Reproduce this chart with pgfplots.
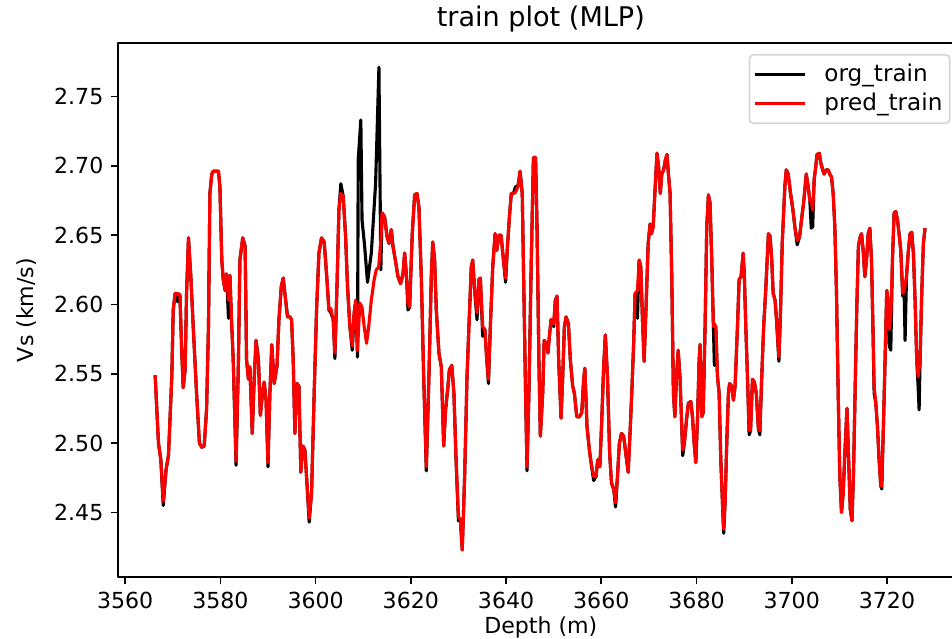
\documentclass[border=0pt]{standalone}
\usepackage{fontspec}
\setmainfont{DejaVu Sans}
\usepackage{pgfplots}
\pgfplotsset{compat=1.18}
\usepackage{pgfplotstable}

\pgfplotstableread{
d v
3566.3 2.549
3567.0 2.500
3567.5 2.488
3568.0 2.455
3568.6 2.481
3569.1 2.491
3569.8 2.548
3570.1 2.596
3570.5 2.608
3571.0 2.602
3571.5 2.607
3571.9 2.565
3572.2 2.540
3572.6 2.553
3572.9 2.608
3573.3 2.648
3573.8 2.620
3574.3 2.584
3575.0 2.536
3575.6 2.500
3576.1 2.497
3576.6 2.498
3577.1 2.524
3577.5 2.584
3577.8 2.680
3578.2 2.694
3578.5 2.696
3579.6 2.696
3579.9 2.685
3580.3 2.632
3580.6 2.618
3581.0 2.610
3581.3 2.622
3581.7 2.590
3582.0 2.621
3582.4 2.584
3582.7 2.560
3583.3 2.484
3583.8 2.560
3584.1 2.632
3584.7 2.648
3585.2 2.642
3585.5 2.560
3585.9 2.546
3586.2 2.555
3586.7 2.507
3587.1 2.546
3587.5 2.574
3588.0 2.560
3588.4 2.520
3588.9 2.538
3589.2 2.544
3589.6 2.531
3590.0 2.483
3590.4 2.536
3590.8 2.571
3591.3 2.543
3591.9 2.556
3592.3 2.589
3592.8 2.613
3593.2 2.619
3593.55 2.608
3594.1 2.591
3594.6 2.591
3594.95 2.589
3595.3 2.560
3595.65 2.507
3596.1 2.543
3596.5 2.541
3596.9 2.479
3597.3 2.498
3597.75 2.495
3598.1 2.476
3598.65 2.443
3599.15 2.464
3599.7 2.536
3600.2 2.596
3600.7 2.637
3601.25 2.648
3601.8 2.645
3602.3 2.622
3602.8 2.596
3603.2 2.594
3603.7 2.589
3604.05 2.561
3604.45 2.608
3604.9 2.668
3605.3 2.687
3605.8 2.678
3606.3 2.649
3606.7 2.613
3607.2 2.584
3607.7 2.567
3608.1 2.594
3608.45 2.603
3608.8 2.562
3608.95 2.704
3609.5 2.733
3609.75 2.661
3610.3 2.642
3610.9 2.616
3611.7 2.637
3612.6 2.687
3613.3 2.771
3613.7 2.625
3613.95 2.666
3614.5 2.663
3615.0 2.649
3615.4 2.644
3615.9 2.654
3616.25 2.642
3616.75 2.632
3617.3 2.620
3617.85 2.615
3618.35 2.622
3618.7 2.637
3619.1 2.620
3619.4 2.596
3619.75 2.598
3620.3 2.651
3620.8 2.679
3621.3 2.680
3621.7 2.670
3622.2 2.620
3622.7 2.548
3623.25 2.480
3623.8 2.548
3624.3 2.620
3624.6 2.645
3625.0 2.632
3625.35 2.596
3625.9 2.565
3626.4 2.555
3626.9 2.498
3627.3 2.524
3627.8 2.541
3628.1 2.553
3628.6 2.556
3629.05 2.536
3629.5 2.488
3630.0 2.444
3630.4 2.445
3630.8 2.423
3631.3 2.476
3631.8 2.548
3632.2 2.584
3632.7 2.627
3633.0 2.632
3633.45 2.608
3633.9 2.589
3634.3 2.618
3634.6 2.619
3635.1 2.577
3635.55 2.582
3635.95 2.560
3636.3 2.543
3636.7 2.584
3637.2 2.627
3637.7 2.651
3638.05 2.639
3638.5 2.650
3638.95 2.650
3639.45 2.632
3639.9 2.616
3640.3 2.642
3640.7 2.663
3641.1 2.680
3641.55 2.680
3642.0 2.685
3642.5 2.685
3642.95 2.696
3643.4 2.680
3643.75 2.608
3644.1 2.536
3644.4 2.480
3644.8 2.536
3645.3 2.632
3645.75 2.706
3646.2 2.706
3646.5 2.656
3646.9 2.560
3647.2 2.505
3647.7 2.536
3648.0 2.574
3648.5 2.572
3648.8 2.565
3649.1 2.577
3649.45 2.589
3650.0 2.584
3650.35 2.603
3650.7 2.606
3651.05 2.560
3651.55 2.518
3651.9 2.548
3652.25 2.584
3652.6 2.591
3653.1 2.586
3653.5 2.560
3654.0 2.541
3654.35 2.536
3654.85 2.519
3655.4 2.519
3655.9 2.522
3656.3 2.546
3656.55 2.554
3657.0 2.512
3657.5 2.495
3657.85 2.486
3658.4 2.473
3658.9 2.476
3659.25 2.488
3659.7 2.483
3660.05 2.512
3660.5 2.555
3660.85 2.578
3661.3 2.548
3661.75 2.493
3662.15 2.471
3662.6 2.467
3663.0 2.454
3663.4 2.476
3663.8 2.500
3664.25 2.507
3664.7 2.505
3665.2 2.491
3665.65 2.479
3666.1 2.512
3666.4 2.536
3666.8 2.572
3667.1 2.608
3667.6 2.590
3667.95 2.632
3668.3 2.627
3668.65 2.589
3669.0 2.559
3669.4 2.598
3669.85 2.644
3670.25 2.658
3670.55 2.651
3670.9 2.656
3671.25 2.680
3671.7 2.709
3672.05 2.699
3672.4 2.680
3672.7 2.694
3673.1 2.697
3673.45 2.704
3673.8 2.708
3674.1 2.694
3674.45 2.680
3674.8 2.620
3675.15 2.536
3675.45 2.519
3675.8 2.548
3676.15 2.567
3676.55 2.546
3676.9 2.512
3677.1 2.491
3677.45 2.500
3677.9 2.517
3678.3 2.529
3678.8 2.530
3679.15 2.519
3679.5 2.500
3679.85 2.486
3680.2 2.517
3680.55 2.560
3680.75 2.571
3681.1 2.519
3681.4 2.522
3681.8 2.584
3682.15 2.656
3682.5 2.679
3682.85 2.673
3683.2 2.632
3683.55 2.584
3683.75 2.556
3684.05 2.584
3684.4 2.548
3684.75 2.536
3685.1 2.488
3685.45 2.457
3685.7 2.435
3686.0 2.457
3686.35 2.500
3686.7 2.536
3686.95 2.543
3687.4 2.541
3687.75 2.531
3688.1 2.541
3688.6 2.584
3688.95 2.618
3689.35 2.620
3689.8 2.637
3690.05 2.620
3690.35 2.584
3690.7 2.548
3691.05 2.506
3691.35 2.509
3691.75 2.546
3692.15 2.544
3692.55 2.536
3693.0 2.510
3693.3 2.506
3693.7 2.548
3694.1 2.584
3694.5 2.608
3695.1 2.651
3695.45 2.649
3695.8 2.632
3696.1 2.608
3696.5 2.603
3696.8 2.589
3697.3 2.559
3697.65 2.596
3698.0 2.644
3698.55 2.685
3698.85 2.697
3699.25 2.694
3699.75 2.680
3700.25 2.668
3700.65 2.656
3701.15 2.643
3701.65 2.649
3702.05 2.661
3702.55 2.675
3703.05 2.694
3703.45 2.685
3703.8 2.675
3704.1 2.655
3704.4 2.656
3704.7 2.690
3705.0 2.698
3705.3 2.708
3705.8 2.709
3706.1 2.702
3706.5 2.697
3706.8 2.694
3707.2 2.697
3707.65 2.697
3708.1 2.693
3708.35 2.692
3708.7 2.680
3709.05 2.656
3709.4 2.608
3709.75 2.536
3710.1 2.476
3710.45 2.450
3710.8 2.464
3711.25 2.500
3711.6 2.525
3711.95 2.488
3712.3 2.452
3712.65 2.444
3712.95 2.476
3713.3 2.536
3713.65 2.596
3714.0 2.642
3714.4 2.649
3714.65 2.651
3715.0 2.639
3715.35 2.620
3715.7 2.632
3716.05 2.651
3716.4 2.655
3716.75 2.632
3717.05 2.584
3717.3 2.536
3717.65 2.529
3718.0 2.512
3718.35 2.488
3718.7 2.469
3718.9 2.467
3719.25 2.512
3719.6 2.560
3719.95 2.610
3720.25 2.603
3720.5 2.570
3720.8 2.567
3721.15 2.632
3721.5 2.666
3721.85 2.667
3722.2 2.661
3722.6 2.649
3722.9 2.639
3723.3 2.606
3723.6 2.610
3723.8 2.574
3724.1 2.620
3724.45 2.637
3724.85 2.651
3725.2 2.652
3725.55 2.637
3725.9 2.603
3726.25 2.560
3726.55 2.540
3726.75 2.524
3726.95 2.560
3727.3 2.608
3727.65 2.644
3728.0 2.655
}\orgtrain

\pgfplotstableread{
d v
3566.3 2.549
3567.0 2.500
3567.5 2.488
3568.0 2.458
3568.6 2.481
3569.1 2.491
3569.8 2.548
3570.1 2.596
3570.5 2.608
3571.0 2.608
3571.5 2.607
3571.9 2.565
3572.2 2.540
3572.6 2.553
3572.9 2.608
3573.3 2.648
3573.8 2.620
3574.3 2.584
3575.0 2.536
3575.6 2.500
3576.1 2.497
3576.6 2.498
3577.1 2.524
3577.5 2.584
3577.8 2.680
3578.2 2.694
3578.5 2.696
3579.6 2.696
3579.9 2.685
3580.3 2.632
3580.6 2.618
3581.0 2.610
3581.3 2.622
3581.7 2.603
3582.0 2.621
3582.4 2.584
3582.7 2.560
3583.3 2.487
3583.8 2.560
3584.1 2.632
3584.7 2.648
3585.2 2.642
3585.5 2.560
3585.9 2.546
3586.2 2.555
3586.7 2.507
3587.1 2.546
3587.5 2.574
3588.0 2.560
3588.4 2.520
3588.9 2.538
3589.2 2.544
3589.6 2.531
3590.0 2.486
3590.4 2.536
3590.8 2.571
3591.3 2.543
3591.9 2.556
3592.3 2.589
3592.8 2.613
3593.2 2.619
3593.55 2.608
3594.1 2.591
3594.6 2.591
3594.95 2.589
3595.3 2.560
3595.65 2.507
3596.1 2.543
3596.5 2.541
3596.9 2.479
3597.3 2.498
3597.75 2.495
3598.1 2.476
3598.65 2.446
3599.15 2.464
3599.7 2.536
3600.2 2.596
3600.7 2.637
3601.25 2.648
3601.8 2.645
3602.3 2.622
3602.8 2.596
3603.2 2.597
3603.7 2.589
3604.05 2.565
3604.45 2.608
3604.9 2.668
3605.3 2.680
3605.8 2.678
3606.3 2.649
3606.7 2.613
3607.2 2.584
3607.7 2.570
3608.1 2.594
3608.45 2.603
3608.8 2.567
3609.3 2.601
3609.75 2.598
3610.2 2.584
3610.7 2.572
3611.15 2.584
3611.7 2.603
3612.3 2.618
3612.75 2.625
3613.25 2.627
3613.7 2.646
3613.95 2.666
3614.5 2.663
3615.0 2.649
3615.4 2.644
3615.9 2.654
3616.25 2.642
3616.75 2.632
3617.3 2.620
3617.85 2.615
3618.35 2.622
3618.7 2.637
3619.1 2.620
3619.4 2.601
3619.75 2.598
3620.3 2.651
3620.8 2.679
3621.3 2.680
3621.7 2.670
3622.2 2.620
3622.7 2.548
3623.25 2.483
3623.8 2.548
3624.3 2.620
3624.6 2.645
3625.0 2.632
3625.35 2.596
3625.9 2.565
3626.4 2.555
3626.9 2.498
3627.3 2.524
3627.8 2.541
3628.1 2.553
3628.6 2.556
3629.05 2.536
3629.5 2.488
3630.0 2.447
3630.4 2.445
3630.8 2.423
3631.3 2.476
3631.8 2.548
3632.2 2.584
3632.7 2.627
3633.0 2.632
3633.45 2.608
3633.9 2.594
3634.3 2.618
3634.6 2.619
3635.1 2.584
3635.55 2.582
3635.95 2.560
3636.3 2.546
3636.7 2.584
3637.2 2.627
3637.7 2.651
3638.05 2.639
3638.5 2.650
3638.95 2.650
3639.45 2.632
3639.9 2.619
3640.3 2.642
3640.7 2.663
3641.1 2.680
3641.55 2.680
3642.0 2.681
3642.5 2.685
3642.95 2.696
3643.4 2.680
3643.75 2.608
3644.1 2.536
3644.4 2.483
3644.8 2.536
3645.3 2.632
3645.75 2.706
3646.2 2.706
3646.5 2.656
3646.9 2.560
3647.2 2.505
3647.7 2.536
3648.0 2.574
3648.5 2.572
3648.8 2.565
3649.1 2.577
3649.45 2.589
3650.0 2.586
3650.35 2.603
3650.7 2.606
3651.05 2.560
3651.55 2.518
3651.9 2.548
3652.25 2.584
3652.6 2.591
3653.1 2.586
3653.5 2.560
3654.0 2.541
3654.35 2.536
3654.85 2.519
3655.4 2.519
3655.9 2.522
3656.3 2.546
3656.55 2.554
3657.0 2.512
3657.5 2.495
3657.85 2.486
3658.4 2.476
3658.9 2.476
3659.25 2.488
3659.7 2.483
3660.05 2.512
3660.5 2.555
3660.85 2.578
3661.3 2.548
3661.75 2.493
3662.15 2.471
3662.6 2.467
3663.0 2.457
3663.4 2.476
3663.8 2.500
3664.25 2.507
3664.7 2.505
3665.2 2.491
3665.65 2.479
3666.1 2.512
3666.4 2.536
3666.8 2.572
3667.1 2.608
3667.6 2.610
3667.95 2.632
3668.3 2.627
3668.65 2.589
3669.0 2.559
3669.4 2.598
3669.85 2.644
3670.25 2.658
3670.55 2.651
3670.9 2.656
3671.25 2.680
3671.7 2.709
3672.05 2.699
3672.4 2.680
3672.7 2.694
3673.1 2.697
3673.45 2.704
3673.8 2.708
3674.1 2.694
3674.45 2.680
3674.8 2.620
3675.15 2.536
3675.45 2.519
3675.8 2.548
3676.15 2.567
3676.55 2.546
3676.9 2.512
3677.1 2.495
3677.45 2.500
3677.9 2.517
3678.3 2.529
3678.8 2.530
3679.15 2.519
3679.5 2.500
3679.85 2.486
3680.2 2.517
3680.55 2.560
3680.75 2.571
3681.1 2.519
3681.4 2.522
3681.8 2.584
3682.15 2.656
3682.5 2.679
3682.85 2.673
3683.2 2.632
3683.55 2.584
3683.75 2.586
3684.05 2.584
3684.4 2.548
3684.75 2.536
3685.1 2.488
3685.45 2.457
3685.7 2.438
3686.0 2.457
3686.35 2.500
3686.7 2.536
3686.95 2.543
3687.4 2.541
3687.75 2.531
3688.1 2.541
3688.6 2.584
3688.95 2.618
3689.35 2.620
3689.8 2.637
3690.05 2.620
3690.35 2.584
3690.7 2.548
3691.05 2.509
3691.35 2.509
3691.75 2.546
3692.15 2.544
3692.55 2.536
3693.0 2.510
3693.3 2.509
3693.7 2.548
3694.1 2.584
3694.5 2.608
3695.1 2.651
3695.45 2.649
3695.8 2.632
3696.1 2.608
3696.5 2.603
3696.8 2.589
3697.3 2.562
3697.65 2.596
3698.0 2.644
3698.55 2.685
3698.85 2.697
3699.25 2.694
3699.75 2.680
3700.25 2.668
3700.65 2.656
3701.15 2.646
3701.65 2.649
3702.05 2.661
3702.55 2.675
3703.05 2.694
3703.45 2.685
3703.8 2.675
3704.1 2.675
3704.4 2.668
3704.7 2.690
3705.0 2.698
3705.3 2.708
3705.8 2.709
3706.1 2.702
3706.5 2.697
3706.8 2.694
3707.2 2.697
3707.65 2.697
3708.1 2.693
3708.35 2.692
3708.7 2.680
3709.05 2.656
3709.4 2.608
3709.75 2.536
3710.1 2.476
3710.45 2.450
3710.8 2.464
3711.25 2.500
3711.6 2.525
3711.95 2.488
3712.3 2.452
3712.65 2.444
3712.95 2.476
3713.3 2.536
3713.65 2.596
3714.0 2.642
3714.4 2.649
3714.65 2.651
3715.0 2.639
3715.35 2.620
3715.7 2.632
3716.05 2.651
3716.4 2.655
3716.75 2.632
3717.05 2.584
3717.3 2.541
3717.65 2.529
3718.0 2.512
3718.35 2.488
3718.7 2.469
3718.9 2.469
3719.25 2.512
3719.6 2.560
3719.95 2.610
3720.25 2.603
3720.5 2.582
3720.8 2.591
3721.15 2.632
3721.5 2.666
3721.85 2.667
3722.2 2.661
3722.6 2.649
3722.9 2.639
3723.3 2.608
3723.6 2.610
3724.1 2.620
3724.45 2.637
3724.85 2.651
3725.2 2.652
3725.55 2.637
3725.9 2.603
3726.25 2.560
3726.55 2.548
3726.95 2.560
3727.3 2.608
3727.65 2.644
3728.0 2.655
}\predtrain

\definecolor{legframe}{HTML}{D6D6D6}

\begin{document}
\begin{tikzpicture}
\begin{scope}
\clip (-56.64pt,-29.76pt) rectangle (400.32pt,276.96pt);
\begin{axis}[
  at={(0pt,0pt)}, anchor=south west,
  scale only axis, width=405.9pt, height=256.32pt,
  xmin=3558.5, xmax=3736.1, ymin=2.4035, ymax=2.7885,
  xtick={3560,3580,3600,3620,3640,3660,3680,3700,3720},
  ytick={2.45,2.5,2.55,2.6,2.65,2.7,2.75},
  /pgf/number format/assume math mode=true,
  x tick label style={/pgf/number format/.cd, 1000 sep={}},
  y tick label style={/pgf/number format/.cd, fixed, fixed zerofill, precision=2},
  tick label style={font=\fontsize{10.6}{13}\selectfont, text=black},
  tick align=outside, tick pos=left,
  major tick length=3.5pt,
  tick style={line width=0.8pt, black},
  axis line style={line width=0.8pt, black},
  title={train plot (MLP)},
  every axis title/.style={at={(axis description cs:0.5,1.030)}, anchor=base, font=\fontsize{13}{15}\selectfont},
  xlabel={Depth (m)},
  ylabel={Vs (km/s)},
  every axis x label/.style={at={(axis description cs:0.5,-0.1049)}, anchor=base, font=\fontsize{10.6}{13}\selectfont},
  every axis y label/.style={at={(axis description cs:-0.1077,0.5)}, anchor=center, rotate=90, font=\fontsize{10.6}{13}\selectfont},
  legend style={at={(axis description cs:0.9845,0.9794)}, anchor=north east,
    draw=legframe, fill=white, rounded corners=2pt, line width=0.8pt,
    font=\fontsize{11.1}{12.5}\selectfont, inner xsep=2pt, inner ysep=2.5pt,
    nodes={inner xsep=1.5pt, inner ysep=2pt},
    row sep=0pt,
    /tikz/every odd column/.append style={column sep=7pt}},
  legend cell align=left,
  legend image code/.code={\draw[#1, line width=1.5pt] (0pt,0pt) -- (24pt,0pt);},
  line join=round,
]
\addplot[black, line width=1.5pt] table[x=d, y=v] {\orgtrain};
\addlegendentry{org\_train}
\addplot[red, line width=1.5pt] table[x=d, y=v] {\predtrain};
\addlegendentry{pred\_train}
\end{axis}
\end{scope}
\pgfresetboundingbox
\path[use as bounding box] (-56.64pt,-29.76pt) rectangle (400.32pt,276.96pt);
\end{tikzpicture}
\end{document}
